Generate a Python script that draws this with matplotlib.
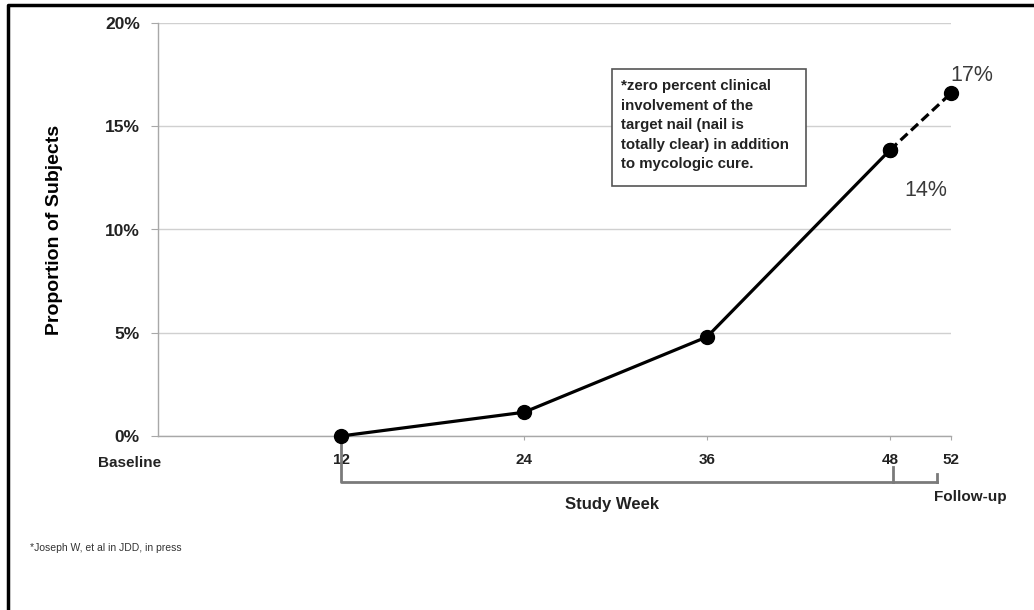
import matplotlib.pyplot as plt
from matplotlib.lines import Line2D
from matplotlib.ticker import FuncFormatter
import matplotlib.transforms as mtransforms

plt.rcParams['font.family'] = ['Liberation Sans', 'DejaVu Sans']

# data
weeks = [12, 24, 36, 48]
cure_pct = [0.0, 1.15, 4.8, 13.85]
followup_weeks = [48, 52]
followup_pct = [13.85, 16.6]
week_ticks = [12, 24, 36, 48, 52]
week_labels = ['12', '24', '36', '48', '52']
y_ticks = [0, 5, 10, 15, 20]
point_labels = {'14%': (48, 13.85), '17%': (52, 16.6)}

note = ("*zero percent clinical\ninvolvement of the\ntarget nail (nail is\n"
        "totally clear) in addition\nto mycologic cure.")
footnote = "*Joseph W, et al in JDD, in press"

W, H = 1034, 610
fig = plt.figure(figsize=(W / 100, H / 100), dpi=100)
ax = fig.add_axes([158 / W, 1 - 436 / H, (951 - 158) / W, (436 - 23) / H])

ax.plot(weeks, cure_pct, color='black', lw=2.3, marker='o', ms=10, zorder=3, clip_on=False)
ax.plot(followup_weeks, followup_pct, color='black', lw=2.3, ls=(0, (3, 1.5)),
        marker='o', ms=10, zorder=3, clip_on=False)

ax.set_xlim(0, 52)
ax.set_ylim(0, 20)
ax.set_yticks(y_ticks)
ax.yaxis.set_major_formatter(FuncFormatter(lambda v, p: f'{v:.0f}%'))
ax.grid(axis='y', color='#d0d0d0', lw=1)
ax.set_axisbelow(True)
for s in ['top', 'right']:
    ax.spines[s].set_visible(False)
for s in ['left', 'bottom']:
    ax.spines[s].set_color('#a8a8a8')
    ax.spines[s].set_linewidth(1)
ax.tick_params(axis='y', length=5, color='#a8a8a8', pad=8, labelsize=12.5)
for lab in ax.get_yticklabels():
    lab.set_fontweight('bold')
    lab.set_color('#222222')
ax.set_xticks(week_ticks)
ax.set_xticklabels(week_labels, fontsize=11, fontweight='bold', color='#222222')
ax.tick_params(axis='x', length=3, color='#a8a8a8', pad=9)

ax.set_ylabel('Proportion of Subjects', fontsize=14, fontweight='bold', labelpad=30)

tr = mtransforms.blended_transform_factory(ax.transData, ax.transAxes)

# baseline label
fig.text(130 / W, 1 - 463 / H, 'Baseline', ha='center', va='center',
         fontsize=11, fontweight='bold', color='#222222')

# bracket under the axis
bc = '#7a7a7a'
ax.add_line(Line2D([12, 12, 51.1], [-0.012, -0.111, -0.111], transform=tr, color=bc, lw=2, clip_on=False))
ax.add_line(Line2D([48.2, 48.2], [-0.075, -0.111], transform=tr, color=bc, lw=2, clip_on=False))
ax.add_line(Line2D([51.1, 51.1], [-0.092, -0.111], transform=tr, color=bc, lw=2, clip_on=False))
fig.text(612 / W, 1 - 505 / H, 'Study Week', ha='center', va='center', fontsize=12,
         fontweight='bold', color='#222222')
fig.text(970 / W, 1 - 497 / H, 'Follow-up', ha='center', va='center', fontsize=11,
         fontweight='bold', color='#222222')

# point labels
ax.annotate('17%', point_labels['17%'], xytext=(15, 13), textcoords='offset points',
            ha='center', va='center', fontsize=15.5, color='#3a3a3a')
ax.annotate('14%', point_labels['14%'], xytext=(26, -29), textcoords='offset points',
            ha='center', va='center', fontsize=15.5, color='#3a3a3a')

# note box
fig.patches.append(plt.Rectangle((612 / W, 1 - 186 / H), (806 - 612) / W, (186 - 69) / H,
                                 transform=fig.transFigure, fill=True, facecolor='white',
                                 edgecolor='#555555', lw=1.2, zorder=5))
fig.text(621 / W, 1 - 79 / H, note, ha='left', va='top', fontsize=10.8, fontweight='bold',
         linespacing=1.5, zorder=6, color='#222222')

fig.text(30 / W, 1 - 548 / H, footnote, ha='left', va='center', fontsize=7.5, color='#333333')

# frame border (top and left)
fig.add_artist(Line2D([8 / W, 8 / W, 1], [0, 1 - 5 / H, 1 - 5 / H], transform=fig.transFigure,
                      color='black', lw=2.5))

fig.savefig('out.png', dpi=100)
